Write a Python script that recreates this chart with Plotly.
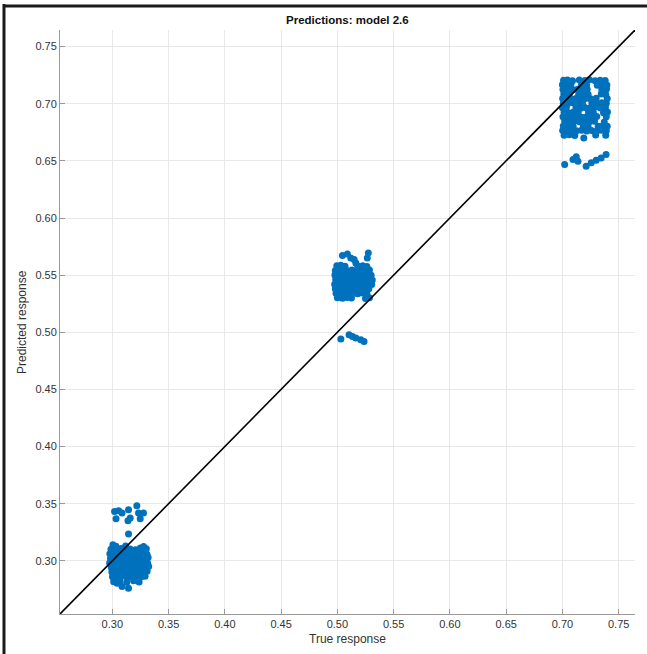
import plotly.graph_objects as go

# Cluster around true response ~0.30
cluster1_points = [
    (0.3020, 0.3432), (0.3056, 0.3438), (0.3033, 0.3368), (0.3086, 0.3418),
    (0.3144, 0.3447), (0.3159, 0.3374), (0.3139, 0.3350), (0.3218, 0.3482),
    (0.3233, 0.3418), (0.3277, 0.3418), (0.3248, 0.3368), (0.3144, 0.3234),
    (0.3005, 0.3142), (0.3032, 0.3128), (0.3118, 0.3131), (0.3278, 0.3126), (0.3249, 0.3112),
    (0.2988, 0.3101), (0.3036, 0.3095), (0.3079, 0.3108), (0.3112, 0.3090), (0.3158, 0.3104),
    (0.3206, 0.3097), (0.3268, 0.3092), (0.3302, 0.3105),
    (0.2978, 0.3062), (0.3012, 0.3070), (0.3051, 0.3058), (0.3094, 0.3066), (0.3141, 0.3055),
    (0.3184, 0.3068), (0.3226, 0.3060), (0.3259, 0.3071), (0.3308, 0.3057),
    (0.2984, 0.3021), (0.3021, 0.3030), (0.3059, 0.3015), (0.3101, 0.3027), (0.3132, 0.3018),
    (0.3171, 0.3031), (0.3211, 0.3012), (0.3248, 0.3025), (0.3289, 0.3016), (0.3318, 0.3029),
    (0.2976, 0.2981), (0.3014, 0.2974), (0.3046, 0.2988), (0.3084, 0.2972), (0.3121, 0.2985),
    (0.3162, 0.2977), (0.3196, 0.2990), (0.3236, 0.2971), (0.3274, 0.2983), (0.3314, 0.2979),
    (0.2991, 0.2941), (0.3026, 0.2948), (0.3066, 0.2936), (0.3104, 0.2945), (0.3146, 0.2932),
    (0.3181, 0.2947), (0.3221, 0.2938), (0.3262, 0.2944), (0.3298, 0.2935), (0.3323, 0.2950),
    (0.2996, 0.2902), (0.3041, 0.2895), (0.3074, 0.2908), (0.3116, 0.2897), (0.3154, 0.2904),
    (0.3199, 0.2891), (0.3242, 0.2903), (0.3284, 0.2896), (0.3309, 0.2910),
    (0.3001, 0.2862), (0.3049, 0.2856), (0.3096, 0.2868), (0.3134, 0.2853), (0.3176, 0.2864),
    (0.3214, 0.2850), (0.3256, 0.2861), (0.3291, 0.2866),
    (0.3012, 0.2818), (0.3068, 0.2824), (0.3128, 0.2812), (0.3189, 0.2826), (0.3238, 0.2815),
    (0.3042, 0.2805), (0.3086, 0.2775), (0.3144, 0.2761),
]

# Cluster around true response ~0.51
cluster2_points = [
    (0.5045, 0.5671), (0.5089, 0.5686), (0.5119, 0.5651), (0.5149, 0.5636),
    (0.5164, 0.5607), (0.5275, 0.5694), (0.5266, 0.5651),
    (0.5031, 0.4941), (0.5104, 0.4979), (0.5134, 0.4964), (0.5164, 0.4950),
    (0.5208, 0.4935), (0.5237, 0.4920),
    (0.4995, 0.5582), (0.5030, 0.5586), (0.5068, 0.5578), (0.5180, 0.5579), (0.5225, 0.5583), (0.5262, 0.5576),
    (0.4982, 0.5541), (0.5015, 0.5536), (0.5052, 0.5544), (0.5090, 0.5538), (0.5130, 0.5545),
    (0.5170, 0.5535), (0.5210, 0.5542), (0.5250, 0.5537), (0.5285, 0.5544),
    (0.4978, 0.5502), (0.5010, 0.5496), (0.5045, 0.5504), (0.5082, 0.5497), (0.5118, 0.5505),
    (0.5155, 0.5498), (0.5195, 0.5503), (0.5235, 0.5495), (0.5270, 0.5502), (0.5300, 0.5498),
    (0.4985, 0.5461), (0.5022, 0.5457), (0.5060, 0.5463), (0.5098, 0.5455), (0.5135, 0.5462),
    (0.5172, 0.5458), (0.5210, 0.5464), (0.5248, 0.5456), (0.5282, 0.5461), (0.5310, 0.5457),
    (0.4976, 0.5421), (0.5012, 0.5418), (0.5050, 0.5424), (0.5088, 0.5416), (0.5125, 0.5422),
    (0.5162, 0.5417), (0.5200, 0.5423), (0.5240, 0.5419), (0.5275, 0.5424), (0.5305, 0.5418),
    (0.4982, 0.5381), (0.5020, 0.5377), (0.5058, 0.5383), (0.5095, 0.5376), (0.5132, 0.5382),
    (0.5170, 0.5378), (0.5208, 0.5384), (0.5245, 0.5377), (0.5280, 0.5381),
    (0.4988, 0.5342), (0.5028, 0.5337), (0.5065, 0.5343), (0.5102, 0.5336), (0.5140, 0.5341),
    (0.5180, 0.5338), (0.5220, 0.5343), (0.5262, 0.5337),
    (0.5000, 0.5302), (0.5045, 0.5298), (0.5085, 0.5304), (0.5125, 0.5299), (0.5250, 0.5296), (0.5285, 0.5302),
]

# Cluster around true response ~0.72
cluster3_points = [
    (0.7020, 0.6468), (0.7094, 0.6511), (0.7123, 0.6535), (0.7138, 0.6497),
    (0.7211, 0.6453), (0.7256, 0.6483), (0.7300, 0.6505), (0.7344, 0.6526), (0.7388, 0.6555),
    (0.7010, 0.7205), (0.7045, 0.7208), (0.7090, 0.7201), (0.7150, 0.7207), (0.7200, 0.7203),
    (0.7240, 0.7209), (0.7290, 0.7202), (0.7335, 0.7206), (0.7380, 0.7203),
    (0.7000, 0.7165), (0.7038, 0.7161), (0.7075, 0.7168), (0.7170, 0.7166),
    (0.7215, 0.7163), (0.7310, 0.7161), (0.7360, 0.7167), (0.7395, 0.7164),
    (0.7005, 0.7125), (0.7050, 0.7128), (0.7095, 0.7122), (0.7135, 0.7127), (0.7180, 0.7121),
    (0.7220, 0.7126), (0.7350, 0.7123), (0.7392, 0.7128),
    (0.7012, 0.7085), (0.7060, 0.7081), (0.7145, 0.7083), (0.7190, 0.7087),
    (0.7228, 0.7082), (0.7345, 0.7086), (0.7385, 0.7081),
    (0.7002, 0.7045), (0.7040, 0.7048), (0.7085, 0.7042), (0.7125, 0.7047), (0.7165, 0.7041),
    (0.7205, 0.7046), (0.7250, 0.7043), (0.7300, 0.7048), (0.7398, 0.7046),
    (0.7008, 0.7005), (0.7048, 0.7001), (0.7092, 0.7008), (0.7138, 0.7003), (0.7178, 0.7007),
    (0.7262, 0.7006), (0.7308, 0.7001), (0.7350, 0.7008), (0.7390, 0.7004),
    (0.7000, 0.6965), (0.7035, 0.6968), (0.7120, 0.6967), (0.7160, 0.6961),
    (0.7200, 0.6966), (0.7245, 0.6963), (0.7290, 0.6968), (0.7338, 0.6962), (0.7382, 0.6966),
    (0.7015, 0.6925), (0.7055, 0.6921), (0.7098, 0.6928), (0.7140, 0.6923), (0.7232, 0.6927),
    (0.7275, 0.6922), (0.7365, 0.6921), (0.7400, 0.6927),
    (0.7005, 0.6885), (0.7045, 0.6888), (0.7088, 0.6882), (0.7130, 0.6887), (0.7172, 0.6881),
    (0.7215, 0.6886), (0.7258, 0.6883), (0.7305, 0.6888), (0.7390, 0.6886),
    (0.7020, 0.6845), (0.7065, 0.6841), (0.7108, 0.6848), (0.7150, 0.6843), (0.7195, 0.6847),
    (0.7240, 0.6842), (0.7285, 0.6846), (0.7372, 0.6841),
    (0.7008, 0.6805), (0.7050, 0.6808), (0.7095, 0.6802), (0.7185, 0.6807), (0.7228, 0.6801),
    (0.7318, 0.6803), (0.7360, 0.6808), (0.7398, 0.6802),
    (0.7002, 0.6765), (0.7040, 0.6761), (0.7080, 0.6768), (0.7125, 0.6763), (0.7170, 0.6767),
    (0.7215, 0.6762), (0.7260, 0.6766), (0.7305, 0.6761), (0.7348, 0.6768), (0.7390, 0.6764),
    (0.7015, 0.6725), (0.7060, 0.6728), (0.7110, 0.6722), (0.7190, 0.6701), (0.7295, 0.6727), (0.7385, 0.6723),
]

tick_values = [0.30, 0.35, 0.40, 0.45, 0.50, 0.55, 0.60, 0.65, 0.70, 0.75]
tick_labels = ["0.30", "0.35", "0.40", "0.45", "0.50", "0.55", "0.60", "0.65", "0.70", "0.75"]
axis_range = [0.2535, 0.7645]

all_points = cluster1_points + cluster2_points + cluster3_points
true_vals = [p[0] for p in all_points]
pred_vals = [p[1] for p in all_points]

BLUE = "#0072BD"
FONT = "Liberation Sans, Arial, Helvetica, sans-serif"

fig = go.Figure()
fig.add_trace(go.Scatter(
    x=true_vals, y=pred_vals, mode="markers",
    marker=dict(color=BLUE, size=7), showlegend=False,
))
fig.add_trace(go.Scatter(
    x=axis_range, y=axis_range, mode="lines",
    line=dict(color="black", width=1.6), showlegend=False, hoverinfo="skip",
))

fig.update_layout(
    width=647, height=654,
    margin=dict(l=60, r=12, t=30, b=40),
    paper_bgcolor="white", plot_bgcolor="white",
    xaxis=dict(range=axis_range, tickvals=tick_values, ticktext=tick_labels,
               showgrid=True, gridcolor="#e8e8e8", ticks="inside", ticklen=5, tickcolor="#9a9a9a",
               showline=True, linecolor="#9a9a9a", linewidth=1, zeroline=False,
               tickfont=dict(family=FONT, size=11, color="#333333")),
    yaxis=dict(range=axis_range, tickvals=tick_values, ticktext=tick_labels,
               showgrid=True, gridcolor="#e8e8e8", ticks="inside", ticklen=5, tickcolor="#9a9a9a",
               showline=True, linecolor="#9a9a9a", linewidth=1, zeroline=False,
               tickfont=dict(family=FONT, size=11, color="#333333")),
    annotations=[
        dict(text="<b>Predictions: model 2.6</b>", xref="paper", yref="paper",
             x=0.5, y=(614 - 20) / 584, xanchor="center", yanchor="middle", showarrow=False,
             font=dict(family=FONT, size=11.5, color="#111111")),
        dict(text="True response", xref="paper", yref="paper",
             x=0.5, y=(614 - 639) / 584, xanchor="center", yanchor="middle", showarrow=False,
             font=dict(family=FONT, size=12, color="#333333")),
        dict(text="Predicted response", xref="paper", yref="paper", textangle=-90,
             x=(22 - 60) / 575, y=0.5, xanchor="center", yanchor="middle", showarrow=False,
             font=dict(family=FONT, size=12, color="#333333")),
    ],
    shapes=[
        dict(type="line", xref="paper", yref="paper",
             x0=-0.0974, x1=-0.0974, y0=1.0445, y1=-0.0788,
             line=dict(color="#1a1a1a", width=3)),
        dict(type="line", xref="paper", yref="paper",
             x0=-0.099, x1=1.026, y0=1.041, y1=1.041,
             line=dict(color="#1a1a1a", width=3)),
    ],
)

fig.write_html("out.html")
